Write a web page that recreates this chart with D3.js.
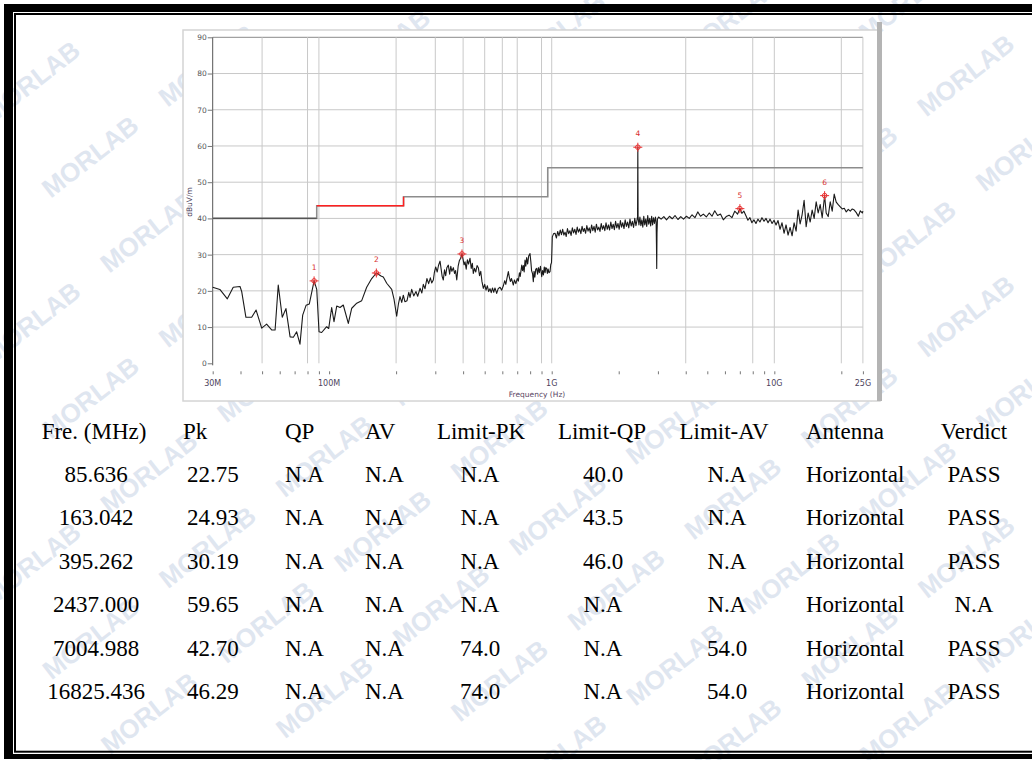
<!DOCTYPE html>
<html><head><meta charset="utf-8">
<script src="https://cdn.jsdelivr.net/npm/d3@7"></script>
<style>body{margin:0;background:#fff}svg{display:block}</style>
</head><body>
<svg id="c" width="1032" height="760"></svg>
<script>
// ---------------- DATA ----------------
const traceFreq = [
30,32.3,34.9,37.1,39.8,40.5,42.3,44.9,47.0,49.8,52.4,55.2,57.2,59.1,61.6,64.0,66.8,69.1,71.5,74.0,76.1,78.8,81.5,85.636,88.0,90.1,92.6,97.5,99.6,102.7,105.2,108.2,112.0,115.8,122.0,126.4,133.1,140.1,147.5,155.4,163.042,171.1,175.2,181.5,191.1,195.7,
201.2,205,208.2,212,215.5,219,223.9,228,231,235,240,245.7,250,256.1,261,265,269.7,275,280,285,289,293.9,297,301.2,306,310,315,319,322,325.9,330,334,338,343.3,348,352,356,361.5,366,370,374.5,380,385,390,395.262,400,404,408,413,418,423,429.6,435,440,444.5,450,456,462,468.2,474,480,486,493,500,507,514,521,528.3,535,542,549,556,566,575,586,596,606.4,615,622,630,638.5,645,652,660,672.3,680,690,700,708.2,716,722,733.6,740,746,752,758.8,765,772,780,788,798.9,806,812,820,826.8,833,840,848,856.3,864,872,880,890,901.9,910,918,926,934,940,949.5,956,964,972,982.7,990,998,1002,
1006,1020,1035,1050,1064,1078,1092,1106,1120,1134,1148,1162,1177,1192,1207,1222,1238,1254,1270,1286,1302,1318,1335,1352,1369,1386,1403,1420,1438,1456,1474,1492,1511,1530,1549,1568,1588,1608,1628,1648,1669,1690,1711,1732,1754,1776,1798,1820,1843,1866,1889,1912,1936,1960,1985,2010,2035,2060,2086,2112,2138,2165,2192,2219,2247,2275,2303,2332,2361,2390,2415,2430,2437,2444,2465,2490,2515,2540,2566,2592,2618,2645,2672,2700,2728,2756,2784,2812,2840,2868,2896,2925,2945,2955,2963,2972,2985,
3020,3100,3190,3280,3380,3480,3580,3690,3800,3910,4030,4150,4270,4400,4530,4660,4800,4950,5100,5250,5400,5560,5730,5900,6080,6260,6450,6640,6840,7004.988,
7150,7300,7450,7610,7770,7930,8100,8270,8440,8620,8800,8990,9180,9370,9570,9770,9970,10180,10390,10610,10830,11060,11290,11530,11770,12020,12270,12530,12790,13060,13330,13610,13900,14190,14490,14790,15100,15420,15740,16070,16410,16825.436,17100,17460,17830,18200,18580,18970,19370,19780,20190,20620,21050,21490,21940,22400,22870,23350,23840,24340,24850,25000
];
const traceLevel = [
21.0,20.4,17.8,21.0,21.2,19.8,12.7,12.7,14.7,9.7,10.8,9.2,9.2,21.6,12.7,15.1,7.3,7.2,8.7,5.3,13.3,16.0,16.4,22.75,20.4,8.7,8.5,10.1,9.6,15.4,11.5,15.8,15.4,16.1,11.0,15.2,16.6,17.3,21.0,23.4,24.93,24.1,23.8,22.1,20.4,17.7,
13.0,16.5,18.4,16.8,18.8,17.0,17.3,19.6,18.2,20.4,18.6,19.8,18.5,20.7,19.4,21.8,20.6,23.4,22.0,23.6,22.2,23.0,25.0,26.6,25.2,27.0,28.2,25.8,24.0,23.0,25.8,24.2,26.4,27.1,24.6,26.8,25.4,26.4,24.8,25.6,23.0,26.8,28.4,29.0,30.19,28.6,27.2,28.0,26.0,28.6,27.4,29.0,26.2,27.6,24.8,26.2,25.2,27.0,26.4,24.2,25.4,22.6,20.7,21.8,20.2,21.4,19.8,20.6,19.5,20.8,19.6,20.8,19.3,20.6,21.0,20.2,21.4,22.8,21.8,23.6,25.3,23.8,22.6,23.4,21.6,23.0,22.0,23.4,22.7,25.0,24.0,27.1,25.6,27.0,25.2,28.5,26.8,29.2,27.4,29.6,30.3,28.0,25.6,24.8,22.5,25.4,23.8,26.0,26.2,24.6,26.4,25.0,26.8,23.9,25.6,24.4,26.6,25.0,26.4,26.2,24.8,26.0,25.0,25.3,27.2,27.8,31.0,
34.9,35.8,35.9,34.6,36.4,35.2,36.8,35.5,37.0,35.4,36.2,35.0,37.2,35.8,36.6,35.3,37.4,36.0,37.0,35.6,37.6,36.2,37.1,35.8,37.8,36.4,37.2,35.9,38.0,36.5,37.4,36.0,38.2,36.6,37.8,36.2,38.4,36.8,37.6,36.4,38.6,37.0,38.0,36.6,38.8,37.0,38.2,36.8,39.0,37.2,38.4,36.9,39.2,37.4,38.6,37.0,39.4,37.6,38.8,37.2,39.6,37.8,39.0,37.4,39.8,37.9,39.2,37.5,40.0,38.0,39.4,40.5,59.65,40.2,38.2,40.4,38.0,39.6,37.6,40.6,38.2,39.8,37.8,40.8,38.4,40.0,37.9,40.6,38.2,40.2,38.6,40.4,39.0,33.0,26.2,36.0,39.8,
40.4,39.8,40.5,39.6,40.6,39.9,40.8,39.7,40.5,39.8,40.6,40.0,41.0,40.2,41.8,40.6,41.2,40.4,41.5,40.6,42.1,40.8,41.2,39.6,40.5,40.9,40.2,42.0,41.2,42.70,
41.4,42.0,40.8,39.5,40.2,38.8,39.6,38.6,39.8,39.0,40.2,39.2,40.0,38.8,39.8,38.6,39.5,38.2,39.4,37.0,38.8,35.9,38.2,35.4,37.5,35.2,38.8,36.5,42.3,38.5,41.0,45.0,37.7,41.5,39.0,42.3,40.0,44.6,41.5,43.8,40.2,46.29,41.5,40.5,44.6,42.0,46.7,44.5,43.8,43.2,42.6,42.8,41.8,42.5,42.0,42.6,42.3,41.6,40.6,42.1,41.5,42.0
];
const markerFreq = [85.636, 163.042, 395.262, 2437.000, 7004.988, 16825.436];
const markerLevel = [22.75, 24.93, 30.19, 59.65, 42.70, 46.29];
const markerLabel = ["1","2","3","4","5","6"];
const limitFreq = [30, 88, 216, 960, 25000];
const limitLevel = [40, 43.5, 46, 54];
const yTickValues = [0,10,20,30,40,50,60,70,80,90];
const xTickFreq = [30,100,1000,10000,25000];
const xTickText = ["30M","100M","1G","10G","25G"];
const minorTickFreq = [30,40,50,60,70,80,90,100,200,300,400,500,600,700,800,900,1000,2000,3000,4000,5000,6000,7000,8000,9000,10000,20000,25000];
const gridFreq = [50,80,90,200,300,400,500,600,700,900,1000,4000,8000,10000,20000,25000];
const tableHeader = ["Fre. (MHz)","Pk","QP","AV","Limit-PK","Limit-QP","Limit-AV","Antenna","Verdict"];
const tableRows = [
 ["85.636","22.75","N.A","N.A","N.A","40.0","N.A","Horizontal","PASS"],
 ["163.042","24.93","N.A","N.A","N.A","43.5","N.A","Horizontal","PASS"],
 ["395.262","30.19","N.A","N.A","N.A","46.0","N.A","Horizontal","PASS"],
 ["2437.000","59.65","N.A","N.A","N.A","N.A","N.A","Horizontal","N.A"],
 ["7004.988","42.70","N.A","N.A","74.0","N.A","54.0","Horizontal","PASS"],
 ["16825.436","46.29","N.A","N.A","74.0","N.A","54.0","Horizontal","PASS"]
];
const watermarkText = "MORLAB";

// ---------------- DRAW ----------------
const svg = d3.select("#c");
svg.append("rect").attr("width",1032).attr("height",760).attr("fill","#fff");

// watermarks: rotated tiling (rows along -38deg, 148px apart along, 95px across)
const wm = svg.append("g");
const ang = -38*Math.PI/180, ux = Math.cos(ang), uy = Math.sin(ang), nx = -uy, ny = ux;
for (let a=-12;a<=12;a++) for (let b=-12;b<=12;b++){
  const cx = 967 + a*148*ux + b*95*nx, cy = 77 + a*148*uy + b*95*ny;
  if (cx<-5||cx>1040||cy<-5||cy>768) continue;
  wm.append("text").attr("transform",`translate(${cx.toFixed(1)},${cy.toFixed(1)}) rotate(-38)`)
    .attr("text-anchor","middle").attr("dominant-baseline","middle")
    .attr("font-family","Liberation Sans, Arial, sans-serif").attr("font-weight","bold")
    .attr("font-size",26).attr("fill","#dfe6f0").text(watermarkText);
}

// page frame
svg.append("rect").attr("x",4).attr("y",4).attr("width",1040).attr("height",8).attr("fill","#000");
svg.append("rect").attr("x",4).attr("y",4).attr("width",9).attr("height",755).attr("fill","#000");
svg.append("rect").attr("x",4).attr("y",754).attr("width",1040).attr("height",5).attr("fill","#000");
svg.append("rect").attr("x",15).attr("y",14).attr("width",1040).attr("height",737.7)
  .attr("fill","none").attr("stroke","#000").attr("stroke-width",2);

// chart panel
svg.append("rect").attr("x",183).attr("y",30).attr("width",697).attr("height",371)
  .attr("fill","#fff").attr("stroke","#d4d4d4").attr("stroke-width",1.5);
svg.append("rect").attr("x",877).attr("y",22).attr("width",5).attr("height",379).attr("fill","#b4b4b4");

const x = d3.scaleLog().domain([30,25000]).range([212.7,862.9]);
const y = d3.scaleLinear().domain([0,90]).range([363.3,37.3]);
const g = svg.append("g");

// horizontal grid
g.selectAll("line.hg").data(yTickValues.filter(v=>v>0)).join("line")
  .attr("x1",x(30)).attr("x2",x(25000)).attr("y1",d=>y(d)).attr("y2",d=>y(d))
  .attr("stroke",d=>d===90?"#8a8a8a":"#c9c9c9").attr("stroke-width",1);
// vertical grid
g.selectAll("line.vg").data(gridFreq).join("line")
  .attr("x1",d=>x(d)).attr("x2",d=>x(d)).attr("y1",y(90)).attr("y2",y(0))
  .attr("stroke","#c9c9c9").attr("stroke-width",1);
// left axis
g.append("line").attr("x1",x(30)).attr("x2",x(30)).attr("y1",y(90)).attr("y2",y(0)+2)
  .attr("stroke","#555").attr("stroke-width",1);

// y axis ticks
const yAxis = d3.axisLeft(y).tickValues(yTickValues).tickSize(5).tickPadding(1);
const ya = svg.append("g").attr("transform",`translate(${x(30)},0)`).call(yAxis);
ya.select(".domain").remove();
ya.selectAll("line").attr("stroke","#777");
ya.selectAll("text").attr("font-family","DejaVu Sans, Verdana, sans-serif").attr("font-size",7.5).attr("fill","#555");

// x axis minor ticks + labels
const xAxis = d3.axisBottom(x).tickValues(minorTickFreq).tickSize(3).tickFormat("");
const xa = svg.append("g").attr("transform",`translate(0,${y(0)+8})`).call(xAxis);
xa.select(".domain").remove();
xa.selectAll("line").attr("stroke","#777");
svg.selectAll("text.xl").data(xTickFreq).join("text")
  .attr("x",d=>x(d)).attr("y",386).attr("text-anchor","middle")
  .attr("font-family","DejaVu Sans, Verdana, sans-serif").attr("font-size",8).attr("fill","#4d3f5c")
  .text((d,i)=>xTickText[i]);
svg.append("text").attr("x",537).attr("y",397).attr("text-anchor","middle")
  .attr("font-family","DejaVu Sans, Verdana, sans-serif").attr("font-size",7.5).attr("fill","#5a4663")
  .text("Frequency (Hz)");
svg.append("text").attr("transform","translate(192,202) rotate(-90)").attr("text-anchor","middle")
  .attr("font-family","DejaVu Sans, Verdana, sans-serif").attr("font-size",7.5).attr("fill","#4d3f5c")
  .text("dBuV/m");

// limit lines
const limPts = [];
limitLevel.forEach((v,i)=>{limPts.push([limitFreq[i],v]);limPts.push([limitFreq[i+1],v]);});
const lline = d3.line().x(d=>x(d[0])).y(d=>y(d[1]));
g.append("path").attr("d",lline(limPts)).attr("fill","none").attr("stroke","#8c8c8c").attr("stroke-width",1.6);
g.append("path").attr("d",lline(limPts.slice(0,2))).attr("fill","none").attr("stroke","#555").attr("stroke-width",1.2);
g.append("path").attr("d",lline(limPts.slice(2,5))).attr("fill","none").attr("stroke","#ff2020").attr("stroke-width",1.4);

// trace
const tline = d3.line().x((d,i)=>x(traceFreq[i])).y((d,i)=>y(traceLevel[i]));
g.append("path").attr("d",tline(traceFreq)).attr("fill","none").attr("stroke","#1a1a1a").attr("stroke-width",1.1).attr("stroke-linejoin","round");

// markers
const mk = g.selectAll("g.mk").data(markerFreq).join("g")
  .attr("transform",(d,i)=>`translate(${x(d)},${y(markerLevel[i])})`);
mk.append("circle").attr("r",2.3).attr("fill","none").attr("stroke","#e83030").attr("stroke-width",1);
mk.append("path").attr("d","M-4.5,0H4.5M0,-4.5V4.5").attr("stroke","#e83030").attr("stroke-width",1);
mk.append("text").attr("y",-11).attr("text-anchor","middle").attr("font-family","DejaVu Sans, Verdana, sans-serif")
  .attr("font-size",7.5).attr("fill","#d83030").text((d,i)=>markerLabel[i]);

// table
const font = "Liberation Serif, Times New Roman, serif";
const hdrX = [94,183,285,365,481,602,724,806,974];
const hdrA = ["middle","start","start","start","middle","middle","middle","start","middle"];
const valX = [96,187,285,365,480,603,727,806,974];
const valA = ["middle","start","start","start","middle","middle","middle","start","middle"];
svg.selectAll("text.th").data(tableHeader).join("text")
  .attr("x",(d,i)=>hdrX[i]).attr("y",439).attr("text-anchor",(d,i)=>hdrA[i])
  .attr("font-family",font).attr("font-size",23).attr("fill","#000").text(d=>d);
const rowY = [481.5,525,568.5,611.5,655.5,698.5];
tableRows.forEach((row,r)=>{
  svg.selectAll(null).data(row).join("text")
    .attr("x",(d,i)=>valX[i]).attr("y",rowY[r]).attr("text-anchor",(d,i)=>valA[i])
    .attr("font-family",font).attr("font-size",23).attr("fill","#000").text(d=>d);
});
</script>
</body></html>
